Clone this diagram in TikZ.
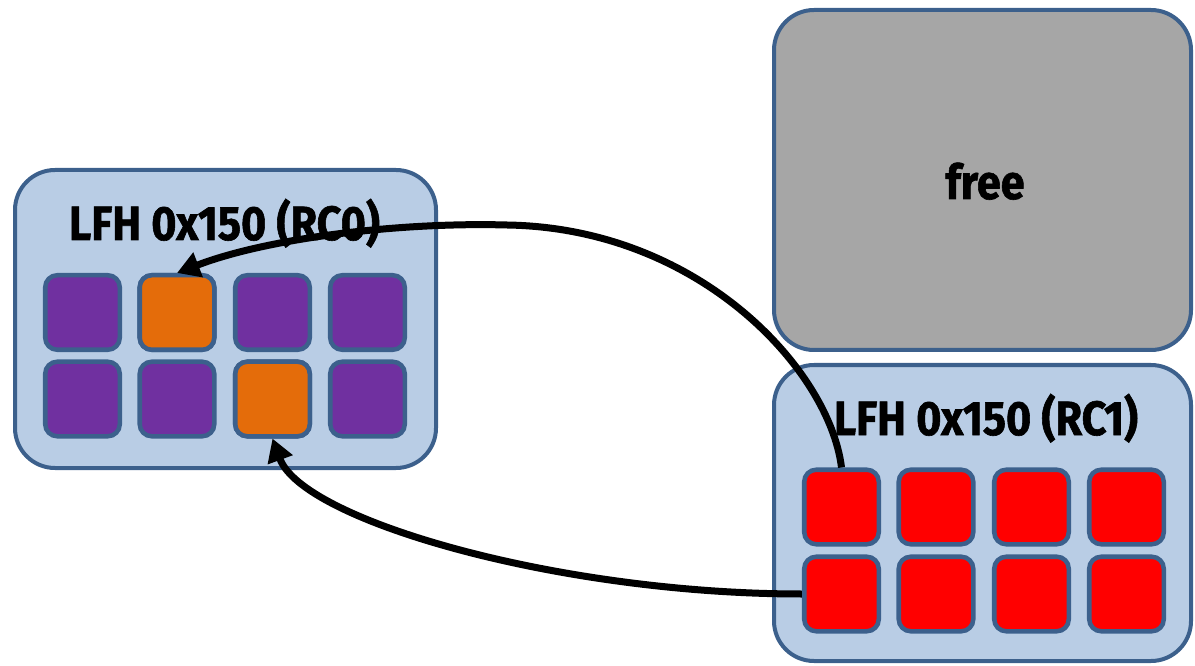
\documentclass[tikz,border=0pt]{standalone}
\usepackage{fontspec}
\setmainfont{Fira Sans}
\newfontfamily\heavyfont{Fira Sans Bold}[FakeBold=1.3]
\usetikzlibrary{arrows.meta}

\definecolor{edgeblue}{RGB}{60,96,140}
\definecolor{panelfill}{RGB}{185,205,229}
\definecolor{freegray}{RGB}{166,166,166}
\definecolor{cellpurple}{RGB}{112,48,160}
\definecolor{cellorange}{RGB}{228,108,10}
\definecolor{cellred}{RGB}{255,0,0}

% narrow heavy lettering
\newcommand\condtxt[1]{\scalebox{0.9}[1]{#1}}

\tikzset{
  panel/.style={draw=edgeblue, line width=3pt, rounded corners=30pt, inner sep=0pt},
  cell/.style={draw=edgeblue, line width=3.4pt, rounded corners=9pt,
               minimum width=55.9pt, minimum height=55.9pt, inner sep=0pt},
  title/.style={font=\fontsize{36}{40}\selectfont\heavyfont, inner sep=0pt, anchor=base},
  arr/.style={line width=5.25pt, -{Triangle[length=17pt,width=19pt]}}
}

\begin{document}
\begin{tikzpicture}[x=0.75pt, y=-0.75pt]
  \useasboundingbox (0,0) rectangle (1195,666);

  % containers
  \node[panel, fill=panelfill, minimum width=315.75pt, minimum height=223.5pt] (rc0) at (225.5,319) {};
  \node[panel, fill=freegray, minimum width=312.75pt, minimum height=255pt] (free) at (982.5,180) {};
  \node[panel, fill=panelfill, minimum width=312.75pt, minimum height=222pt] (rc1) at (982.5,513) {};

  % labels
  \node[title] (rc0title) at (224.5,240) {\condtxt{LFH 0x150 (RC0)}};
  \node[title] (rc1title) at (986,435) {\condtxt{LFH 0x150 (RC1)}};
  \node[title] (freetitle) at (985,199) {\condtxt{free}};

  % RC0 chunks
  \foreach \c/\x in {1/82.5, 2/177, 3/272.5, 4/367.5}
    \foreach \r/\y in {1/312.5, 2/399}
      \node[cell, fill=cellpurple] (l\r\c) at (\x,\y) {};
  \node[cell, fill=cellorange] (l12) at (177,312.5) {};
  \node[cell, fill=cellorange] (l23) at (272.5,399) {};

  % RC1 chunks
  \foreach \c/\x in {1/841.5, 2/936, 3/1031.5, 4/1126.5}
    \foreach \r/\y in {1/507, 2/594}
      \node[cell, fill=cellred] (r\r\c) at (\x,\y) {};

  % reallocation arrows
  \coordinate (apex) at (507,225);
  \draw[arr] (r11.north) .. controls +(-12,-97) and +(193,3) .. (apex)
             .. controls +(-107,-3) and +(91,-35) .. (l12.north);
  \draw[arr] (r21.west) .. controls +(-243,0) and +(30,82) .. (l23.south);
\end{tikzpicture}
\end{document}
